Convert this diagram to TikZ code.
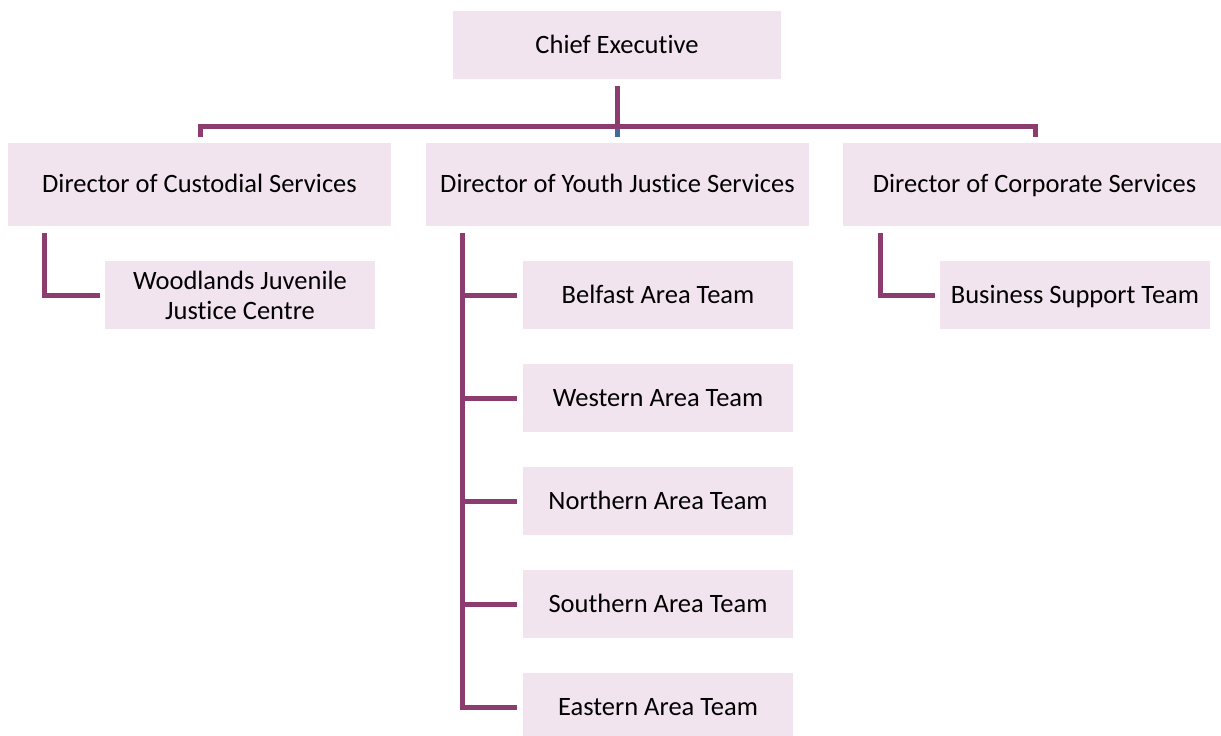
\documentclass[tikz,border=0pt]{standalone}
\usepackage{fontspec}
\setmainfont{Carlito}[Ligatures=NoCommon]
\definecolor{plum}{RGB}{140,60,110}
\definecolor{boxfill}{RGB}{242,228,239}
\definecolor{blueconn}{RGB}{62,106,158}
\tikzset{
  basebox/.style={draw=none, fill=boxfill, rectangle, inner sep=0pt, align=center,
    font=\fontsize{26.5}{30}\selectfont, text=black},
  box/.style={basebox, text height=20pt, text depth=4pt},
  dirbox/.style={box, minimum width=383pt, minimum height=83pt},
  teambox/.style={box, minimum width=270pt, minimum height=68pt},
  conn/.style={draw=plum, line width=5pt, line join=miter, line cap=butt},
  bconn/.style={draw=blueconn, line width=5pt, line cap=butt},
}
\begin{document}
\begin{tikzpicture}[x=1pt,y=-1pt]
\useasboundingbox (0,0) rectangle (1221,736);
\begin{scope}
\clip (0,0) rectangle (1221,736);
\node[box, minimum width=328pt, minimum height=68pt] (chief) at (617,45) {Chief Executive};
\node[dirbox] (cust) at (199.5,184.5) {Director of Custodial Services};
\node[dirbox] (youth) at (617.5,184.5) {Director of Youth Justice Services};
\node[dirbox] (corp) at (1034.5,184.5) {Director of Corporate Services};
\node[basebox, minimum width=270pt, minimum height=68pt] (wood) at (240,295) {Woodlands Juvenile\\Justice Centre};
\node[teambox] (bst) at (1075,295) {Business Support Team};
\node[teambox] (belf) at (658,295) {Belfast Area Team};
\node[teambox] (west) at (658,398) {Western Area Team};
\node[teambox] (north) at (658,501) {Northern Area Team};
\node[teambox] (south) at (658,604) {Southern Area Team};
\node[teambox] (east) at (658,707) {Eastern Area Team};

% top connectors
\coordinate (ctop) at (617,86);
\coordinate (cmid) at (617,126);
\coordinate (cbot) at (617,137);
\coordinate (lt) at (200,137);
\coordinate (rt) at (1035,137);
\draw[bconn] (cmid) -- (cbot);
\draw[conn] (ctop) -- (cmid);
\draw[conn] (lt) |- (cmid) -| (rt);

% custodial
\coordinate (custv) at (44,233);
\draw[conn] (custv) |- ([xshift=-5pt]wood.west);
% corporate
\coordinate (corpv) at (880,233);
\draw[conn] (corpv) |- ([xshift=-5pt]bst.west);
% youth
\coordinate (youthv) at (462,233);
\draw[conn] (youthv) |- ([xshift=-6pt]east.west);
\foreach \t in {belf,west,north,south}
  \draw[conn] (462,0 |- \t.west) -- ([xshift=-6pt]\t.west);
\end{scope}
\end{tikzpicture}
\end{document}
